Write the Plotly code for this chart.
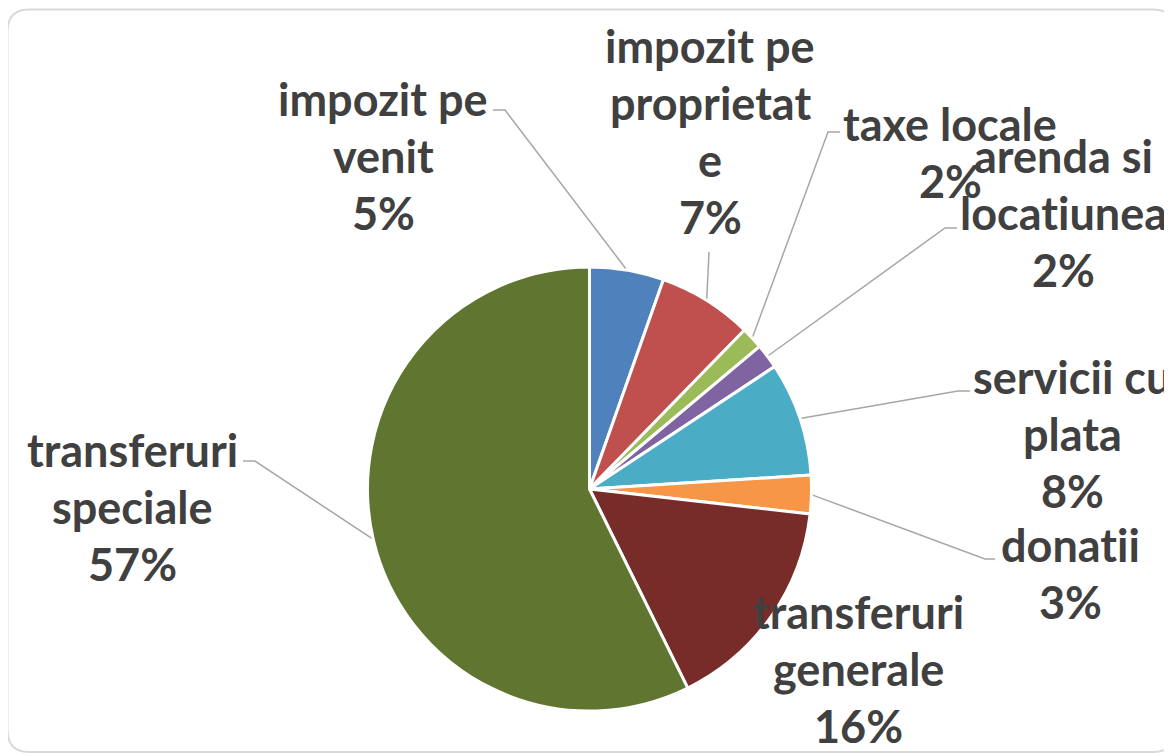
"""
Structura veniturilor - pie chart with Excel style labels and leader lines
"""
import math
import plotly.graph_objects as go

# the page body keeps its default 8px margin, so the figure is 8px smaller
OFF = 8
W, H = 1172 - OFF, 755 - OFF

categories = ["impozit pe venit", "impozit pe proprietate", "taxe locale",
              "arenda si locatiunea", "servicii cu plata", "donatii",
              "transferuri generale", "transferuri speciale"]
shares = [5.4, 6.9, 1.6, 1.8, 8.3, 2.8, 15.9, 57.3]
# how Excel wrapped each category name
label_lines = [["impozit pe", "venit"],
               ["impozit pe", "proprietat", "e"],
               ["taxe locale"],
               ["arenda si", "locatiunea"],
               ["servicii cu", "plata"],
               ["donatii"],
               ["transferuri", "generale"],
               ["transferuri", "speciale"]]
colors = ["#4F81BD", "#C0504D", "#9BBB59", "#8064A2",
          "#4BACC6", "#F79646", "#772C2A", "#5F7530"]

# layout: pie geometry and label placement (screen pixels)
cx, cy, r = 589.5, 489, 222
label_pos = [(383, 99), (710, 46), (950, 124), (1063, 156),
             (1072, 377), (1070, 545), (858, 612), (132, 450)]
leader_pts = [[(505, 110), (493, 110)],
              [(709, 252)],
              [(828, 132), (840, 132)],
              [(945, 228), (957, 228)],
              [(958, 391), (970, 391)],
              [(985, 559), (995, 559)],
              None,
              [(255, 461), (243, 461)]]
line_gap = 57
font_size = 45
font_family = "Lato"
text_color = "#404040"


def px(x):
    return (x - OFF) / W


def py(y):
    return 1 - (y - OFF) / H


def no_lig(t):
    # Lato would draw "ti" as a ligature
    return t.replace("ti", "t\u200ci")


fig = go.Figure()
fig.add_trace(go.Pie(
    labels=categories, values=shares, sort=False, direction="clockwise",
    rotation=0, textinfo="none", hoverinfo="label+percent",
    marker=dict(colors=colors, line=dict(color="white", width=3)),
    domain=dict(x=[px(cx - r), px(cx + r)], y=[py(cy + r), py(cy - r)]),
    showlegend=False,
))

total = sum(shares)
annotations = []
shapes = []
cum = 0
for i, v in enumerate(shares):
    pct = round(100 * v / total)
    lines = label_lines[i] + [f"{pct}%"]
    x0, y0 = label_pos[i]
    for k, t in enumerate(lines):
        annotations.append(dict(
            x=px(x0), y=py(y0 + k * line_gap), xref="paper", yref="paper",
            text=f"<b>{no_lig(t)}</b>", showarrow=False,
            xanchor="center", yanchor="middle",
            font=dict(family=font_family, size=font_size, color=text_color),
        ))
    ang = 2 * math.pi * (cum + v / 2) / total
    cum += v
    if leader_pts[i] is None:
        continue
    pts = [(cx + r * math.sin(ang), cy - r * math.cos(ang))] + leader_pts[i]
    path = "M " + " L ".join(f"{px(a)},{py(b)}" for a, b in pts)
    shapes.append(dict(type="path", path=path, xref="paper", yref="paper",
                       line=dict(color="#A6A6A6", width=1.5), layer="below"))

# chart area frame
fx0, fy0, fx1, fy1, rad = 7.5, 9.5, 1175, 752, 22
frame = (f"M {px(fx0)},{py(fy0 + rad)} Q {px(fx0)},{py(fy0)} {px(fx0 + rad)},{py(fy0)} "
         f"L {px(fx1 - rad)},{py(fy0)} Q {px(fx1)},{py(fy0)} {px(fx1)},{py(fy0 + rad)} "
         f"L {px(fx1)},{py(fy1 - rad)} Q {px(fx1)},{py(fy1)} {px(fx1 - rad)},{py(fy1)} "
         f"L {px(fx0 + rad)},{py(fy1)} Q {px(fx0)},{py(fy1)} {px(fx0)},{py(fy1 - rad)} Z")
shapes.append(dict(type="path", path=frame, xref="paper", yref="paper",
                   line=dict(color="#D9D9D9", width=2), layer="below"))

fig.update_layout(
    width=W, height=H, margin=dict(l=0, r=0, t=0, b=0),
    paper_bgcolor="white", plot_bgcolor="white",
    annotations=annotations, shapes=shapes,
)
fig.write_html("out.html")
